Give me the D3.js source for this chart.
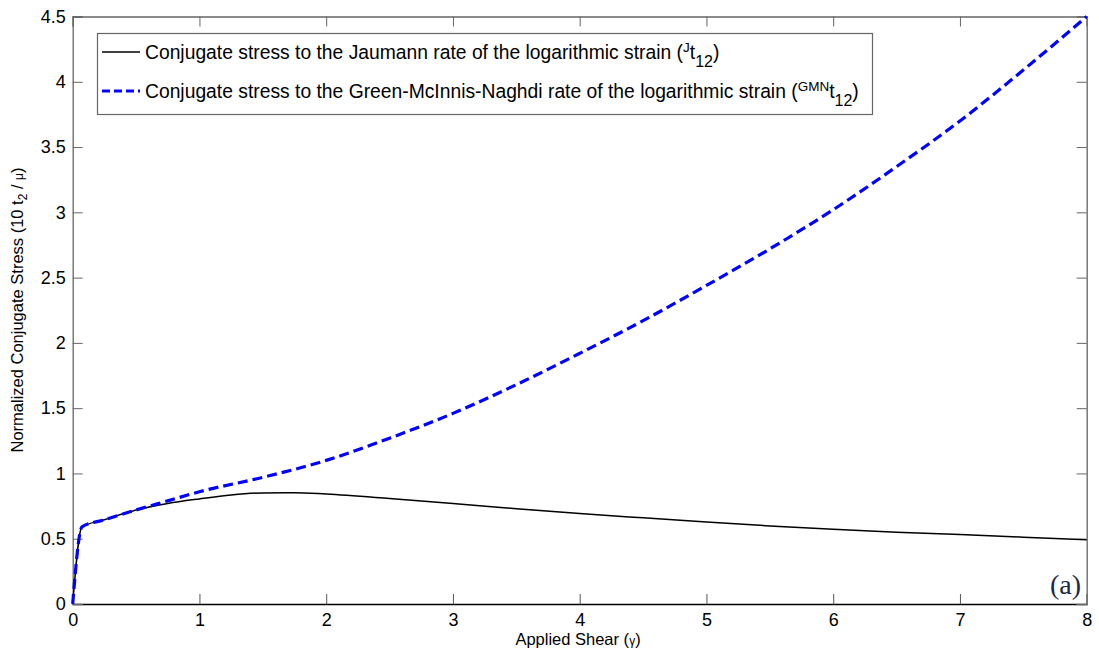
<!DOCTYPE html>
<html>
<head>
<meta charset="utf-8">
<script src="https://cdn.jsdelivr.net/npm/d3@7"></script>
<style>
  body { margin: 0; background: #fff; }
  text { font-family: "Liberation Sans", Arial, sans-serif; }
</style>
</head>
<body>
<div id="chart"></div>
<script>
var width = 1099,
    height = 654;

// applied shear values and normalized stress
var gammaJ = [0, 0.073, 0.25, 0.5, 0.75, 1, 1.25, 1.5, 1.75, 2, 2.5, 3, 3.5, 4, 4.5, 5, 5.5, 6, 6.5, 7, 7.5, 8];
var stressJ = [0, 0.59, 0.645, 0.72, 0.77, 0.805, 0.835, 0.851, 0.853, 0.842, 0.808, 0.77, 0.73, 0.693, 0.66, 0.628, 0.598, 0.572, 0.55, 0.532, 0.512, 0.493];

var gammaGMN = [0, 0.073, 0.25, 0.5, 0.75, 1, 1.5, 2, 2.5, 3, 3.5, 4, 4.5, 5, 5.5, 6, 6.5, 7, 7.5, 8];
var stressGMN = [0, 0.59, 0.645, 0.72, 0.79, 0.86, 0.97, 1.1, 1.27, 1.46, 1.68, 1.92, 2.17, 2.44, 2.72, 3.02, 3.35, 3.7, 4.09, 4.5];

var xTicks = [0, 1, 2, 3, 4, 5, 6, 7, 8];
var yTicks = [0, 0.5, 1, 1.5, 2, 2.5, 3, 3.5, 4, 4.5];

var plotL = 72.7, plotR = 1086.7, plotT = 16.5, plotB = 604;

var x = d3.scaleLinear().domain([0, 8]).range([plotL, plotR]);
var y = d3.scaleLinear().domain([0, 4.5]).range([plotB, plotT]);

var svg = d3.select("#chart").append("svg")
    .attr("width", width)
    .attr("height", height);

// axes with inward ticks, MATLAB style
svg.append("g")
    .attr("transform", "translate(0," + plotB + ")")
    .call(d3.axisBottom(x).tickValues(xTicks).tickSize(-10).tickPadding(9).tickFormat(d3.format("")))
    .call(function(g) {
        g.select(".domain").attr("stroke", "#000").attr("stroke-width", 1.3);
        g.selectAll(".tick line").attr("stroke", "#555");
        g.selectAll("text").attr("font-size", 18).attr("fill", "#000");
    });

svg.append("g")
    .attr("transform", "translate(" + plotL + ",0)")
    .call(d3.axisLeft(y).tickValues(yTicks).tickSize(-10).tickPadding(7).tickFormat(d3.format("")))
    .call(function(g) {
        g.select(".domain").attr("stroke", "#666").attr("stroke-width", 1.3);
        g.selectAll(".tick line").attr("stroke", "#666");
        g.selectAll("text").attr("font-size", 18).attr("fill", "#000");
    });

svg.append("g")
    .attr("transform", "translate(0," + plotT + ")")
    .call(d3.axisTop(x).tickValues(xTicks).tickSize(-10).tickFormat(""))
    .call(function(g) {
        g.select(".domain").attr("stroke", "#666").attr("stroke-width", 1.3);
        g.selectAll(".tick line").attr("stroke", "#666");
    });

svg.append("g")
    .attr("transform", "translate(" + plotR + ",0)")
    .call(d3.axisRight(y).tickValues(yTicks).tickSize(-10).tickFormat(""))
    .call(function(g) {
        g.select(".domain").attr("stroke", "#777").attr("stroke-width", 1.5);
        g.selectAll(".tick line").attr("stroke", "#666");
    });

var line = d3.line()
    .x(function(d) { return x(d[0]); })
    .y(function(d) { return y(d[1]); })
    .curve(d3.curveMonotoneX);

var jData = gammaJ.map(function(g, i) { return [g, stressJ[i]]; });
var gData = gammaGMN.map(function(g, i) { return [g, stressGMN[i]]; });

svg.append("path")
    .attr("d", line(jData))
    .attr("fill", "none")
    .attr("stroke", "#000")
    .attr("stroke-width", 1.5);

svg.append("path")
    .attr("d", line(gData))
    .attr("fill", "none")
    .attr("stroke", "#0000ff")
    .attr("stroke-width", 3.2)
    .attr("stroke-dasharray", "10,5");

// legend
var leg = svg.append("g");
leg.append("rect")
    .attr("x", 97.5).attr("y", 33.5)
    .attr("width", 775).attr("height", 81)
    .attr("fill", "#fff").attr("stroke", "#666").attr("stroke-width", 1.2);

leg.append("line")
    .attr("x1", 102).attr("x2", 140).attr("y1", 52).attr("y2", 52)
    .attr("stroke", "#000").attr("stroke-width", 1.5);
leg.append("line")
    .attr("x1", 102).attr("x2", 140).attr("y1", 91).attr("y2", 91)
    .attr("stroke", "#0000ff").attr("stroke-width", 3.2).attr("stroke-dasharray", "8,4");

var t1 = leg.append("text").attr("x", 145).attr("y", 59).attr("font-size", 19.3);
t1.append("tspan").text("Conjugate stress to the Jaumann rate of the logarithmic strain (");
t1.append("tspan").attr("font-size", 13.5).attr("dy", -7).text("J");
t1.append("tspan").attr("dy", 7).text("t");
t1.append("tspan").attr("font-size", 16).attr("dy", 8).text("12");
t1.append("tspan").attr("dy", -8).text(")");

var t2 = leg.append("text").attr("x", 145).attr("y", 98).attr("font-size", 19.3);
t2.append("tspan").text("Conjugate stress to the Green-McInnis-Naghdi rate of the logarithmic strain (");
t2.append("tspan").attr("font-size", 13.5).attr("dy", -7).text("GMN");
t2.append("tspan").attr("dy", 7).text("t");
t2.append("tspan").attr("font-size", 16).attr("dy", 8).text("12");
t2.append("tspan").attr("dy", -8).text(")");

// panel tag
svg.append("text")
    .attr("x", 1081).attr("y", 594)
    .attr("text-anchor", "end")
    .style("font-family", "'Liberation Serif', serif")
    .attr("font-size", 28)
    .attr("fill", "#1c2a48")
    .text("(a)");

// axis titles
var xl = svg.append("text")
    .attr("x", 578).attr("y", 645)
    .attr("text-anchor", "middle")
    .attr("font-size", 16.5);
xl.append("tspan").text("Applied Shear (");
xl.append("tspan").attr("font-size", 12).text("γ");
xl.append("tspan").text(")");

var yl = svg.append("text")
    .attr("transform", "translate(23,310) rotate(-90)")
    .attr("text-anchor", "middle")
    .attr("font-size", 16.5);
yl.append("tspan").text("Normalized Conjugate Stress (10 t");
yl.append("tspan").attr("font-size", 12).attr("dy", 4).text("2");
yl.append("tspan").attr("dy", -4).text(" / ");
yl.append("tspan").attr("font-size", 12).text("μ");
yl.append("tspan").text(")");
</script>
</body>
</html>
